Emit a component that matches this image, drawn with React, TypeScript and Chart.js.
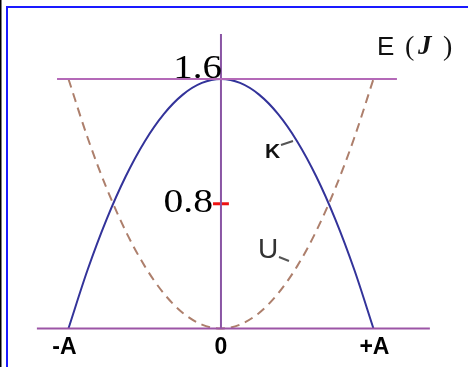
import React, { useEffect, useRef } from "react";
import { Chart, registerables } from "chart.js";

Chart.register(...registerables);

// Displacement in units of amplitude A
const positions = [-1, -0.875, -0.75, -0.625, -0.5, -0.375, -0.25, -0.125, 0, 0.125, 0.25, 0.375, 0.5, 0.625, 0.75, 0.875, 1];
// Kinetic energy K (J)
const kineticValues = [0, 0.375, 0.7, 0.975, 1.2, 1.375, 1.5, 1.575, 1.6, 1.575, 1.5, 1.375, 1.2, 0.975, 0.7, 0.375, 0];
// Potential energy U (J)
const potentialValues = [1.6, 1.225, 0.9, 0.625, 0.4, 0.225, 0.1, 0.025, 0, 0.025, 0.1, 0.225, 0.4, 0.625, 0.9, 1.225, 1.6];

const totalEnergy = 1.6;
const yTickValues = [0.8, 1.6];
const yTickLabels = ["0.8", "1.6"];
const xTickValues = [-1, 0, 1];
const xTickLabels = ["-A", "0", "+A"];

// extents of the guide lines (in data units)
const topLineX = [-1.075, 1.154];
const baseLineX = [-1.207, 1.37];
const axisYRange = [0, 1.889];
const redTickX = [-0.052, 0.052];

const X_MIN = -1.449;
const X_MAX = 1.62;
const Y_MIN = -0.247;
const Y_MAX = 2.107;

const axisColor = "#9c55a6";

function stretchedText(ctx: CanvasRenderingContext2D, text: string, xRight: number, y: number, sx: number) {
  ctx.save();
  ctx.translate(xRight, y);
  ctx.scale(sx, 1);
  ctx.textAlign = "right";
  ctx.fillText(text, 0, 0);
  ctx.restore();
}

const labelsPlugin = {
  id: "labels",
  afterDraw(chart: any) {
    const ctx = chart.ctx as CanvasRenderingContext2D;
    const xs = chart.scales.x;
    const ys = chart.scales.y;
    ctx.save();
    // frame
    ctx.fillStyle = "#000";
    ctx.fillRect(0, 0, 1.5, 367);
    ctx.fillStyle = "#1a1aff";
    ctx.fillRect(6, 6, 2, 361);
    ctx.fillRect(6, 6, 462, 2);

    // y tick labels
    ctx.fillStyle = "#000";
    ctx.textBaseline = "alphabetic";
    ctx.font = "33px 'Liberation Serif', serif";
    const x0 = xs.getPixelForValue(0);
    stretchedText(ctx, yTickLabels[1], x0 + 1, ys.getPixelForValue(yTickValues[1]) - 1, 1.18);
    stretchedText(ctx, yTickLabels[0], x0 - 8, ys.getPixelForValue(yTickValues[0]) + 8, 1.2);

    // x tick labels
    ctx.font = "bold 23px 'Liberation Sans', Arial, sans-serif";
    ctx.textAlign = "center";
    const yb = ys.getPixelForValue(0) + 26;
    ctx.fillText(xTickLabels[0], xs.getPixelForValue(xTickValues[0]) - 4, yb);
    ctx.fillText(xTickLabels[1], xs.getPixelForValue(xTickValues[1]), yb);
    ctx.fillText(xTickLabels[2], xs.getPixelForValue(xTickValues[2]) + 1, yb);

    // E (J)
    ctx.textAlign = "left";
    ctx.fillStyle = "#111";
    ctx.font = "26px 'Liberation Sans', Arial, sans-serif";
    ctx.fillText("E", 377, 55);
    ctx.font = "28px 'Liberation Serif', serif";
    ctx.fillText("(", 405, 55);
    ctx.font = "bold italic 27px 'Liberation Serif', serif";
    ctx.fillText("J", 418, 54);
    ctx.font = "28px 'Liberation Serif', serif";
    ctx.fillText(")", 443, 55);

    // K and U labels
    ctx.fillStyle = "#111";
    ctx.font = "bold 21px 'Liberation Sans', Arial, sans-serif";
    ctx.fillText("K", 265, 158);
    ctx.fillStyle = "#333";
    ctx.font = "28px 'Liberation Sans', Arial, sans-serif";
    ctx.fillText("U", 258, 258);
    ctx.strokeStyle = "#555";
    ctx.lineWidth = 2;
    ctx.beginPath();
    ctx.moveTo(281, 145);
    ctx.lineTo(293, 141);
    ctx.moveTo(279, 257);
    ctx.lineTo(289, 261);
    ctx.stroke();
    ctx.restore();
  },
};

export default function App() {
  const ref = useRef<HTMLCanvasElement | null>(null);
  useEffect(() => {
    if (!ref.current) return;
    const line = (xa: number[], ya: number[]) => xa.map((x, i) => ({ x, y: ya[i] }));
    const chart = new Chart(ref.current, {
      type: "scatter",
      data: {
        datasets: [
          {
            label: "top",
            data: line(topLineX, [totalEnergy, totalEnergy]),
            showLine: true,
            borderColor: "#b469b8",
            borderWidth: 2,
            pointRadius: 0,
          },
          {
            label: "base",
            data: line(baseLineX, [0, 0]),
            showLine: true,
            borderColor: axisColor,
            borderWidth: 2,
            pointRadius: 0,
          },
          {
            label: "axis",
            data: line([0, 0], axisYRange),
            showLine: true,
            borderColor: "#8a55a4",
            borderWidth: 2,
            pointRadius: 0,
          },
          {
            label: "U",
            data: line(positions, potentialValues),
            showLine: true,
            borderColor: "#ad7f6c",
            borderWidth: 2,
            borderDash: [9, 6],
            pointRadius: 0,
            cubicInterpolationMode: "monotone",
          },
          {
            label: "K",
            data: line(positions, kineticValues),
            showLine: true,
            borderColor: "#33339a",
            borderWidth: 2,
            pointRadius: 0,
            cubicInterpolationMode: "monotone",
          },
          {
            label: "tick",
            data: line(redTickX, [yTickValues[0], yTickValues[0]]),
            showLine: true,
            borderColor: "#ee1111",
            borderWidth: 3,
            pointRadius: 0,
          },
        ],
      },
      options: {
        animation: false,
        responsive: false,
        devicePixelRatio: 1,
        layout: { padding: 0 },
        events: [],
        scales: {
          x: { type: "linear", min: X_MIN, max: X_MAX, display: false },
          y: { type: "linear", min: Y_MIN, max: Y_MAX, display: false },
        },
        plugins: { legend: { display: false }, tooltip: { enabled: false } },
      },
      plugins: [labelsPlugin],
    } as any);
    return () => chart.destroy();
  }, []);
  return (
    <div style={{ position: "fixed", left: 0, top: 0, width: 468, height: 367, background: "#fff" }}>
      <canvas ref={ref} width={468} height={367} style={{ display: "block" }} />
    </div>
  );
}
